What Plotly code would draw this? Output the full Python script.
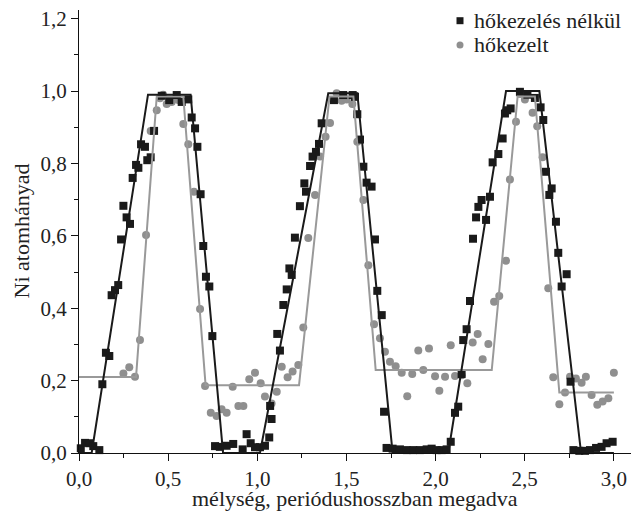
import plotly.graph_objects as go

# --- data ---
untreated_x = [0.010, 0.034, 0.058, 0.080, 0.114, 0.131, 0.151, 0.170, 0.183, 0.202, 0.220, 0.236,
               0.249, 0.267, 0.286, 0.301, 0.320, 0.333, 0.348, 0.370, 0.383, 0.402, 0.421, 0.464,
               0.506, 0.548, 0.576, 0.613, 0.632, 0.651, 0.664, 0.682, 0.697, 0.712, 0.731, 0.748,
               0.763, 0.790, 0.828, 0.865, 0.918, 0.940, 0.963, 0.987, 1.015, 1.043, 1.067, 1.072,
               1.080, 1.112, 1.127, 1.146, 1.165, 1.180, 1.193, 1.211, 1.239, 1.264, 1.273, 1.296,
               1.310, 1.329, 1.346, 1.361, 1.430, 1.482, 1.535, 1.548, 1.561, 1.576, 1.595, 1.613,
               1.641, 1.660, 1.673, 1.698, 1.711, 1.725, 1.759, 1.800, 1.838, 1.875, 1.912, 1.950,
               1.978, 2.006, 2.034, 2.062, 2.085, 2.109, 2.127, 2.146, 2.155, 2.174, 2.193, 2.210,
               2.227, 2.240, 2.258, 2.283, 2.305, 2.320, 2.352, 2.376, 2.389, 2.402, 2.421, 2.473,
               2.515, 2.557, 2.589, 2.604, 2.619, 2.638, 2.651, 2.675, 2.688, 2.707, 2.735, 2.757,
               2.773, 2.806, 2.838, 2.866, 2.900, 2.931, 2.959, 2.993]
untreated_y = [0.013, 0.028, 0.027, 0.019, 0.008, 0.190, 0.277, 0.268, 0.436, 0.450, 0.464, 0.590,
               0.683, 0.651, 0.633, 0.760, 0.796, 0.788, 0.853, 0.846, 0.809, 0.817, 0.890, 0.987,
               0.975, 0.989, 0.970, 0.977, 0.927, 0.897, 0.846, 0.715, 0.572, 0.487, 0.460, 0.323,
               0.019, 0.017, 0.020, 0.025, 0.010, 0.052, 0.027, 0.016, 0.016, 0.020, 0.043, 0.130,
               0.094, 0.329, 0.283, 0.409, 0.452, 0.510, 0.492, 0.595, 0.682, 0.745, 0.722, 0.793,
               0.819, 0.832, 0.854, 0.911, 0.975, 0.989, 0.989, 0.984, 0.936, 0.866, 0.791, 0.747,
               0.736, 0.590, 0.448, 0.381, 0.114, 0.014, 0.012, 0.010, 0.008, 0.008, 0.008, 0.010,
               0.012, 0.008, 0.008, 0.010, 0.031, 0.111, 0.128, 0.218, 0.312, 0.342, 0.420, 0.592,
               0.651, 0.680, 0.699, 0.644, 0.708, 0.803, 0.826, 0.869, 0.938, 0.947, 0.952, 0.998,
               0.990, 0.981, 0.955, 0.920, 0.777, 0.713, 0.731, 0.639, 0.553, 0.460, 0.494, 0.197,
               0.008, 0.006, 0.006, 0.008, 0.014, 0.017, 0.027, 0.031]

treated_x = [0.249, 0.282, 0.314, 0.342, 0.376, 0.402, 0.436, 0.454, 0.472, 0.492, 0.520, 0.557,
             0.585, 0.613, 0.645, 0.679, 0.707, 0.739, 0.772, 0.800, 0.828, 0.862, 0.894, 0.922,
             0.955, 0.987, 1.019, 1.043, 1.080, 1.109, 1.137, 1.170, 1.198, 1.230, 1.258, 1.286,
             1.324, 1.352, 1.383, 1.408, 1.445, 1.473, 1.501, 1.533, 1.561, 1.595, 1.623, 1.655,
             1.688, 1.716, 1.744, 1.776, 1.810, 1.841, 1.869, 1.903, 1.931, 1.963, 1.997, 2.021,
             2.053, 2.085, 2.109, 2.146, 2.178, 2.208, 2.236, 2.264, 2.296, 2.328, 2.357, 2.395,
             2.417, 2.451, 2.473, 2.501, 2.544, 2.570, 2.600, 2.632, 2.660, 2.694, 2.726, 2.754,
             2.787, 2.819, 2.843, 2.875, 2.907, 2.937, 2.969, 3.000]
treated_y = [0.220, 0.237, 0.211, 0.312, 0.602, 0.890, 0.947, 0.980, 0.990, 0.964, 0.970, 0.975,
             0.909, 0.853, 0.722, 0.398, 0.185, 0.111, 0.102, 0.121, 0.111, 0.183, 0.130, 0.130,
             0.204, 0.222, 0.193, 0.156, 0.137, 0.169, 0.238, 0.209, 0.225, 0.243, 0.347, 0.594,
             0.713, 0.819, 0.874, 0.912, 0.994, 0.973, 0.977, 0.964, 0.860, 0.699, 0.519, 0.356,
             0.317, 0.280, 0.252, 0.240, 0.222, 0.157, 0.218, 0.283, 0.229, 0.289, 0.212, 0.172,
             0.211, 0.298, 0.213, 0.215, 0.193, 0.305, 0.329, 0.259, 0.301, 0.418, 0.434, 0.531,
             0.756, 0.915, 0.992, 0.977, 0.940, 0.903, 0.817, 0.455, 0.209, 0.135, 0.167, 0.211,
             0.206, 0.194, 0.211, 0.160, 0.133, 0.142, 0.151, 0.222]

fit_untreated_x = [0.0, 0.071, 0.387, 0.626, 0.808, 1.015, 1.398, 1.561, 1.759, 2.071, 2.395, 2.582, 2.816, 3.0]
fit_untreated_y = [0.0, 0.0, 0.990, 0.990, 0.0, 0.0, 0.994, 0.994, 0.0, 0.0, 1.0, 1.0, 0.0, 0.0]

fit_treated_x = [0.0, 0.320, 0.436, 0.585, 0.710, 1.234, 1.405, 1.539, 1.664, 2.315, 2.460, 2.557, 2.694, 3.0]
fit_treated_y = [0.210, 0.210, 0.985, 0.985, 0.187, 0.187, 0.985, 0.985, 0.229, 0.229, 0.985, 0.985, 0.167, 0.167]

x_ticks = [0.0, 0.5, 1.0, 1.5, 2.0, 2.5, 3.0]
y_ticks = [0.0, 0.2, 0.4, 0.6, 0.8, 1.0, 1.2]

series_names = ["hőkezelés nélkül", "hőkezelt"]
x_title = "mélység, periódushosszban megadva"
y_title = "Ni atomhányad"

BLACK = "#1a1a1a"
GRAY = "#8f8f8f"
TEXT = "#222222"
FONT = "Liberation Serif"

W, H = 631, 511
ML, MR, MT, MB = 79, 0, 10, 58
PW, PH = W - ML - MR, H - MT - MB


def px_x(p):
    return (p - ML) / PW


def px_y(p):
    return (H - MB - p) / PH


fig = go.Figure()
fig.add_trace(go.Scatter(x=treated_x, y=treated_y, mode="markers", name=series_names[1],
                         showlegend=False,
                         marker=dict(symbol="circle", size=8, color=GRAY), cliponaxis=False))
fig.add_trace(go.Scatter(x=untreated_x, y=untreated_y, mode="markers", name=series_names[0],
                         showlegend=False,
                         marker=dict(symbol="square", size=8, color=BLACK), cliponaxis=False))
fig.add_trace(go.Scatter(x=fit_treated_x, y=fit_treated_y, mode="lines", showlegend=False,
                         line=dict(color="#999999", width=2), cliponaxis=False))
fig.add_trace(go.Scatter(x=fit_untreated_x, y=fit_untreated_y, mode="lines", showlegend=False,
                         line=dict(color=BLACK, width=2), cliponaxis=False))

axis_common = dict(showline=True, linecolor="#111", linewidth=1, showgrid=False, zeroline=False,
                   ticks="outside", ticklen=7, tickwidth=1, tickcolor="#111", automargin=False,
                   tickfont=dict(family=FONT, size=21, color=TEXT), tickformat=".1f")

fig.update_xaxes(range=[0, 3.096], tickvals=x_ticks,
                 minor=dict(dtick=0.25, ticks="outside", ticklen=4, tickcolor="#111"),
                 **axis_common)
fig.update_yaxes(range=[0, 1.224], tickvals=y_ticks,
                 minor=dict(dtick=0.1, ticks="outside", ticklen=4, tickcolor="#111"),
                 **axis_common)

annotations = [
    dict(text=x_title, xref="paper", yref="paper", x=0.5, y=px_y(498), xanchor="center",
         yanchor="middle", showarrow=False, font=dict(family=FONT, size=22, color=TEXT)),
    dict(text=y_title, xref="paper", yref="paper", x=px_x(21), y=0.5, xanchor="center",
         yanchor="middle", textangle=-90, showarrow=False,
         font=dict(family=FONT, size=22, color=TEXT)),
    dict(text=series_names[0], xref="paper", yref="paper", x=px_x(472), y=px_y(20),
         xanchor="left", yanchor="middle", showarrow=False,
         font=dict(family=FONT, size=22, color=TEXT)),
    dict(text=series_names[1], xref="paper", yref="paper", x=px_x(472), y=px_y(44.5),
         xanchor="left", yanchor="middle", showarrow=False,
         font=dict(family=FONT, size=22, color=TEXT)),
]

shapes = [
    dict(type="rect", xref="paper", yref="paper", x0=px_x(456.5), x1=px_x(463.5),
         y0=px_y(24.2), y1=px_y(17.2), fillcolor=BLACK, line=dict(width=0)),
    dict(type="circle", xref="paper", yref="paper", x0=px_x(456.5), x1=px_x(463.5),
         y0=px_y(48.5), y1=px_y(41.5), fillcolor=GRAY, line=dict(width=0)),
]

fig.update_layout(
    width=W, height=H,
    margin=dict(l=ML, r=MR, t=MT, b=MB, autoexpand=False),
    separators=", ",
    plot_bgcolor="white", paper_bgcolor="white",
    font=dict(family=FONT, size=21, color=TEXT),
    showlegend=False,
    annotations=annotations,
    shapes=shapes,
)

# the page's default body margin would shift the figure by 8 px
fig.write_html("out.html", config={"displayModeBar": False},
               post_script="document.body.style.margin='0';document.body.style.overflow='hidden';")
